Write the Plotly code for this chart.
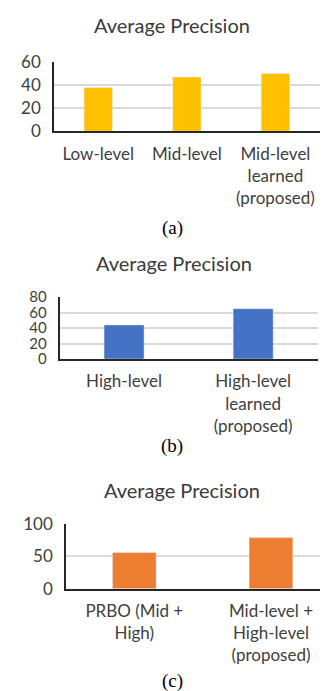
import plotly.graph_objects as go

# Data
cats_a = ["Low-level", "Mid-level", "Mid-level<br>learned<br>(proposed)"]
vals_a = [38, 47, 50]
cats_b = ["High-level", "High-level<br>learned<br>(proposed)"]
vals_b = [44, 65]
cats_c = ["PRBO (Mid +<br>High)", "Mid-level +<br>High-level<br>(proposed)"]
vals_c = [56, 79]
title_text = "Average Precision"
captions = ["(a)", "(b)", "(c)"]

W, H = 328, 691
TXT = "#404040"
FONT = "Lato"

fig = go.Figure()
fig.add_trace(go.Bar(x=cats_a, y=vals_a, marker_color="#FFC000", width=0.32,
                     xaxis="x", yaxis="y", showlegend=False))
fig.add_trace(go.Bar(x=cats_b, y=vals_b, marker_color="#4472C4", width=0.31,
                     xaxis="x2", yaxis="y2", showlegend=False))
fig.add_trace(go.Bar(x=cats_c, y=vals_c, marker_color="#ED7D31", width=0.32,
                     xaxis="x3", yaxis="y3", showlegend=False))

def px_x(p):
    return p / W

def px_y(p):
    return 1 - p / H

common_x = dict(showline=True, linecolor="#262626", linewidth=2, showgrid=False,
                ticks="outside", ticklen=6, tickcolor="rgba(0,0,0,0)", automargin=False,
                tickfont=dict(family=FONT, size=17, color=TXT), fixedrange=True)

def yax(size):
    return dict(showline=True, linecolor="#262626", linewidth=1.5, showgrid=True,
                gridcolor="#D9D9D9", gridwidth=1.5, zeroline=False, automargin=False,
                ticks="outside", ticklen=8, tickcolor="rgba(0,0,0,0)",
                tickfont=dict(family=FONT, size=size, color=TXT), fixedrange=True)

layout = dict(
    width=W, height=H, margin=dict(l=0, r=0, t=0, b=0, autoexpand=False),
    paper_bgcolor="white", plot_bgcolor="white", bargap=0.5,
    xaxis=dict(domain=[px_x(46), px_x(311.7)], anchor="y", range=[-0.5, 2.5], **common_x),
    yaxis=dict(domain=[px_y(123.3), px_y(54)], anchor="x", range=[0, 60], dtick=20, **yax(17)),
    xaxis2=dict(domain=[px_x(51.5), px_x(309.7)], anchor="y2", range=[-0.5, 1.5], **common_x),
    yaxis2=dict(domain=[px_y(351), px_y(289)], anchor="x2", range=[0, 80], dtick=20, **yax(15)),
    xaxis3=dict(domain=[px_x(58), 1.0], anchor="y3", range=[-0.5, 1.476], **common_x),
    yaxis3=dict(domain=[px_y(580.7), px_y(516)], anchor="x3", range=[0, 100], dtick=50, **yax(17)),
)
fig.update_layout(**layout)

titles = [(164.5, 17), (166, 255), (174, 481.7)]
for (x, y) in titles:
    fig.add_annotation(text=title_text, x=px_x(x), y=px_y(y), xref="paper", yref="paper",
                       showarrow=False, xanchor="center", yanchor="middle",
                       font=dict(family=FONT, size=20, color="#3A3A3A"))

cap_pos = [(164, 220), (164, 437.7), (164, 673)]
for cap, (x, y) in zip(captions, cap_pos):
    fig.add_annotation(text=cap, x=px_x(x), y=px_y(y), xref="paper", yref="paper",
                       showarrow=False, xanchor="center", yanchor="middle",
                       font=dict(family="Liberation Serif", size=19, color="black"))

fig.write_html("out.html")
